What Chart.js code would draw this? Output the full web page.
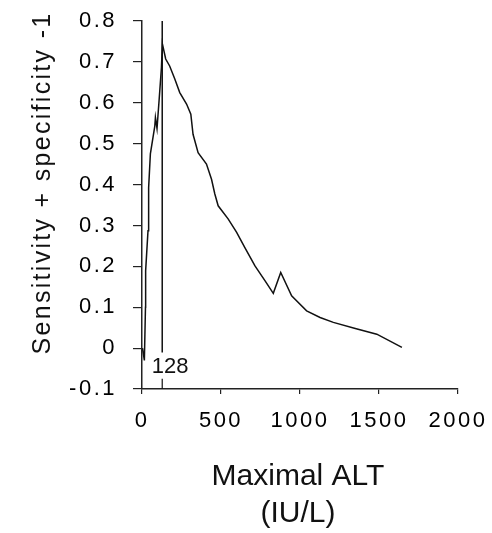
<!DOCTYPE html>
<html>
<head>
<meta charset="utf-8">
<script src="https://cdn.jsdelivr.net/npm/chart.js@4.4.1/dist/chart.umd.min.js"></script>
<style>
  body { margin: 0; background: #fff; }
  #wrap { width: 492px; height: 533px; }
</style>
</head>
<body>
<div id="wrap"><canvas id="rocChart" width="492" height="533"></canvas></div>
<script>
// values
var altValues = [3, 15, 22, 23, 38, 42, 53, 81, 85, 95, 108, 123, 129, 150, 175, 207, 239, 282, 309, 323, 355, 408, 440, 461, 482, 545, 599, 651, 715, 778, 831, 878, 947, 1042, 1127, 1211, 1350, 1486, 1645];
var scoreValues = [0.0, -0.03, 0.1, 0.189, 0.287, 0.392, 0.475, 0.543, 0.564, 0.537, 0.605, 0.686, 0.744, 0.707, 0.69, 0.659, 0.625, 0.597, 0.572, 0.523, 0.478, 0.45, 0.413, 0.377, 0.348, 0.316, 0.283, 0.246, 0.201, 0.165, 0.134, 0.185, 0.128, 0.091, 0.075, 0.063, 0.048, 0.034, 0.002];
var cutoff = 128;
var cutoffLineTop = [0.8, -0.011];
var cutoffLineBottom = [-0.075, -0.1];
var xTicks = [0, 500, 1000, 1500, 2000];
var yTicks = [-0.1, 0, 0.1, 0.2, 0.3, 0.4, 0.5, 0.6, 0.7, 0.8];

var curve = altValues.map(function (v, i) { return { x: v, y: scoreValues[i] }; });

// draws axis titles and the cutoff label
var labelsPlugin = {
  id: "labels",
  beforeDraw: function (chart) { chart.ctx.letterSpacing = "2.5px"; },
  afterDraw: function (chart) {
    var ctx = chart.ctx;
    ctx.save();
    ctx.letterSpacing = "0px";
    ctx.fillStyle = "#111";
    // cutoff label
    ctx.font = "22px 'Liberation Sans', Arial, sans-serif";
    ctx.textAlign = "left";
    ctx.textBaseline = "alphabetic";
    ctx.fillText(String(cutoff), chart.scales.x.getPixelForValue(cutoff) - 10.5, 373);
    // x title
    ctx.font = "30px 'Liberation Sans', Arial, sans-serif";
    ctx.textAlign = "center";
    ctx.fillText("Maximal ALT", 298, 485);
    ctx.fillText("(IU/L)", 298, 522);
    // y title
    ctx.translate(50, 183);
    ctx.rotate(-Math.PI / 2);
    ctx.font = "25px 'Liberation Sans', Arial, sans-serif";
    ctx.letterSpacing = "2.3px";
    ctx.fillText("Sensitivity + specificity -1", 0, 0);
    ctx.restore();
    ctx.letterSpacing = "0px";
  }
};

var ctx = document.getElementById("rocChart");
var myChart = new Chart(ctx, {
  type: "line",
  data: {
    datasets: [
      {
        data: curve,
        borderColor: "#111",
        borderWidth: 1.5,
        pointRadius: 0,
        tension: 0,
        clip: false
      },
      {
        data: cutoffLineTop.map(function (y) { return { x: cutoff, y: y }; }),
        borderColor: "#111",
        borderWidth: 1.5,
        pointRadius: 0,
        clip: false
      },
      {
        data: cutoffLineBottom.map(function (y) { return { x: cutoff, y: y }; }),
        borderColor: "#111",
        borderWidth: 1.2,
        pointRadius: 0,
        clip: false
      }
    ]
  },
  options: {
    responsive: false,
    animation: false,
    layout: { padding: { top: 21, right: 34, left: 0, bottom: 0 } },
    plugins: { legend: { display: false }, tooltip: { enabled: false } },
    scales: {
      x: {
        type: "linear",
        min: 0,
        max: 2000,
        afterFit: function (scale) {
          scale.height = 144;
          scale.paddingLeft = 0;
          scale.paddingRight = 0;
        },
        afterBuildTicks: function (scale) { scale.ticks = xTicks.map(function (v) { return { value: v }; }); },
        grid: { drawOnChartArea: false, tickLength: 5, color: "#222", lineWidth: 1.2 },
        border: { color: "#222", width: 1.5 },
        ticks: {
          padding: 14,
          color: "#000",
          font: { family: "'Liberation Sans', Arial, sans-serif", size: 22 },
          maxRotation: 0,
          callback: function (v) { return String(v); }
        }
      },
      y: {
        type: "linear",
        min: -0.1,
        max: 0.8,
        afterFit: function (scale) {
          scale.width = 142;
          scale.paddingTop = 0;
          scale.paddingBottom = 0;
        },
        afterBuildTicks: function (scale) { scale.ticks = yTicks.map(function (v) { return { value: v }; }); },
        grid: { drawOnChartArea: false, tickLength: 9, color: "#222", lineWidth: 1.2 },
        border: { color: "#222", width: 1.5 },
        ticks: {
          padding: 16,
          color: "#000",
          font: { family: "'Liberation Sans', Arial, sans-serif", size: 22 },
          callback: function (v) { return String(Number(v.toFixed(1))); }
        }
      }
    }
  },
  plugins: [labelsPlugin]
});
</script>
</body>
</html>
